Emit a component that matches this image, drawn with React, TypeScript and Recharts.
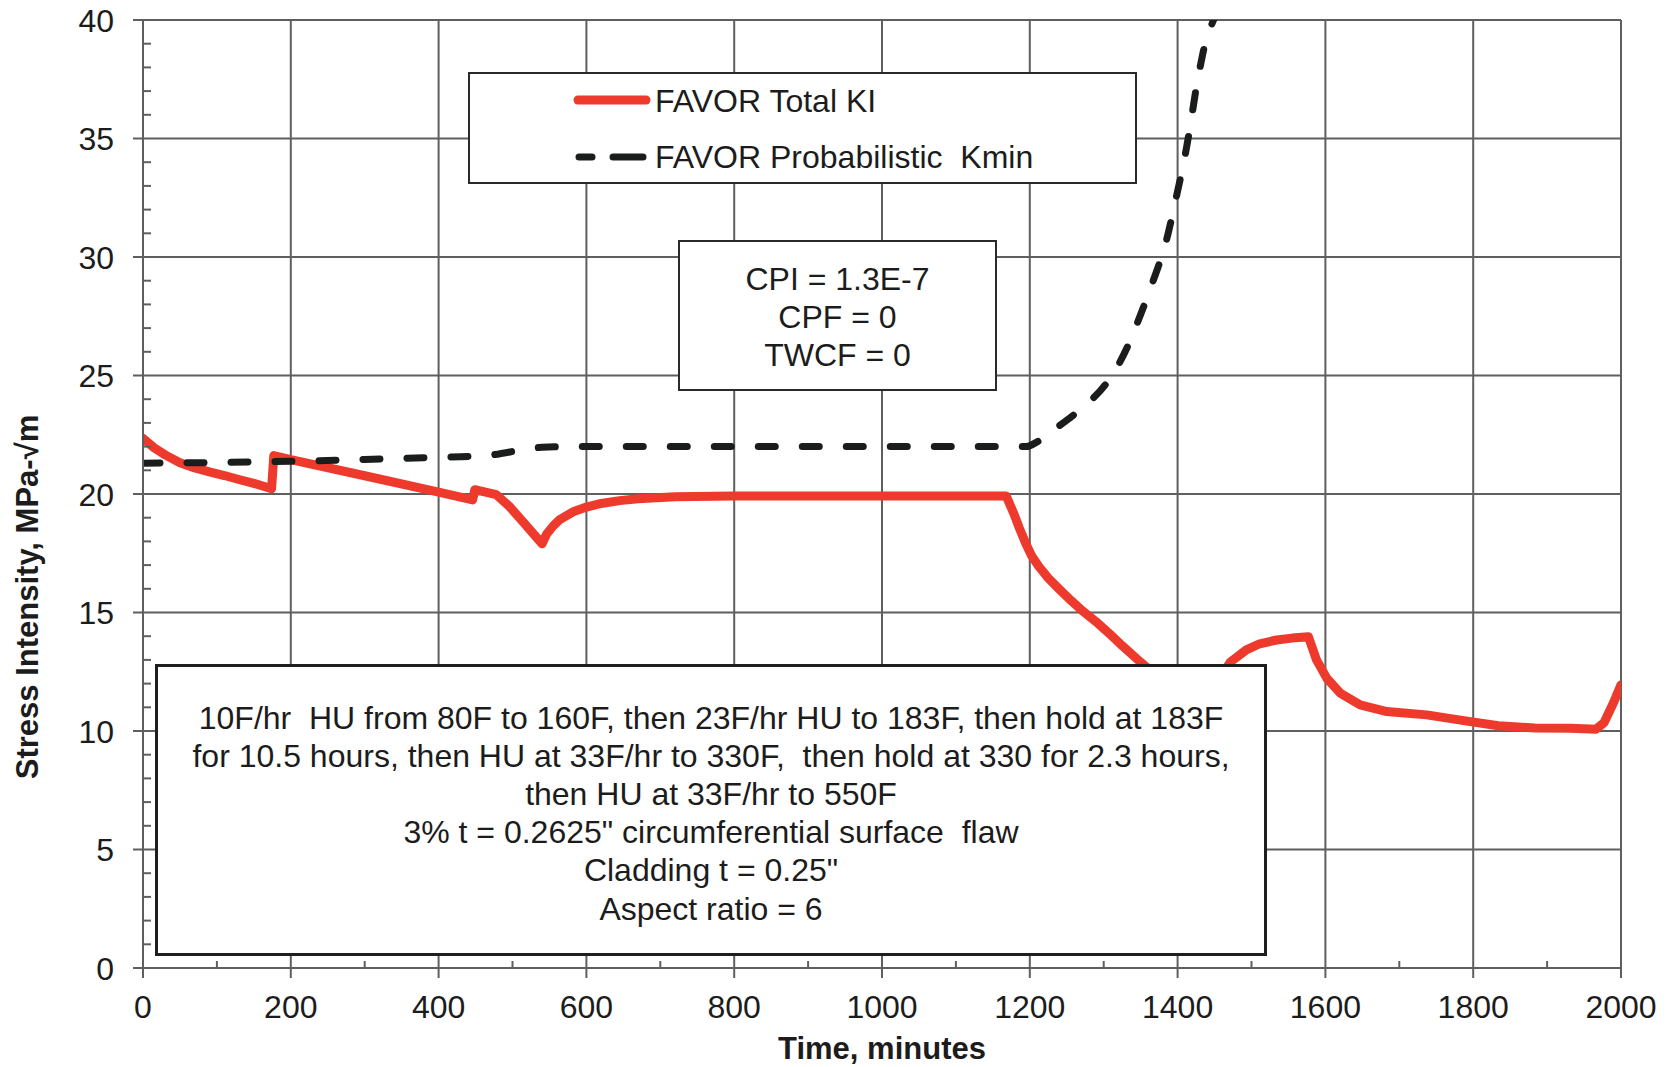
import React from 'react';
import { LineChart, Line, XAxis, YAxis, CartesianGrid, Legend, Label } from 'recharts';

// ---------- data ----------
const KI_TIME = [0, 15, 30, 50, 70, 90, 110, 131, 150, 174, 177, 200, 300, 400, 446, 449, 478, 495, 515, 540, 546, 555, 564, 582, 600, 620, 645, 670, 720, 800, 1168, 1178, 1186, 1194, 1202, 1212, 1225, 1240, 1256, 1272, 1290, 1308, 1325, 1350, 1380, 1410, 1440, 1455, 1471, 1493, 1511, 1534, 1555, 1577, 1588, 1602, 1620, 1647, 1683, 1737, 1785, 1834, 1883, 1932, 1966, 1977, 1990, 2000];
const KI_VALUE = [22.35, 21.95, 21.65, 21.32, 21.1, 20.93, 20.78, 20.6, 20.45, 20.22, 21.62, 21.45, 20.77, 20.08, 19.75, 20.18, 19.97, 19.5, 18.8, 17.9, 18.3, 18.65, 18.92, 19.25, 19.45, 19.6, 19.72, 19.8, 19.88, 19.92, 19.92, 19.2, 18.55, 17.95, 17.42, 16.95, 16.45, 15.98, 15.5, 15.05, 14.6, 14.1, 13.6, 12.9, 12.1, 11.5, 11.4, 12.1, 12.9, 13.42, 13.68, 13.84, 13.92, 13.98, 13.0, 12.22, 11.6, 11.1, 10.82, 10.68, 10.45, 10.22, 10.13, 10.12, 10.07, 10.35, 11.2, 11.95];

const KMIN_TIME = [0, 100, 200, 300, 400, 450, 480, 510, 540, 580, 1195, 1210, 1232, 1258, 1281, 1302, 1318, 1332, 1342, 1354, 1364, 1375, 1384, 1391, 1398, 1405, 1412, 1419, 1425, 1431, 1438, 1446, 1456];
const KMIN_VALUE = [21.3, 21.33, 21.38, 21.46, 21.55, 21.6, 21.68, 21.85, 21.97, 22.0, 22.0, 22.2, 22.7, 23.3, 23.9, 24.6, 25.35, 26.2, 26.95, 27.9, 28.75, 29.7, 30.6, 31.5, 32.5, 33.5, 34.6, 35.9, 37.1, 38.1, 39.1, 39.8, 40.5];

const X_TICKS = [0, 100, 200, 300, 400, 500, 600, 700, 800, 900, 1000, 1100, 1200, 1300, 1400, 1500, 1600, 1700, 1800, 1900, 2000];
const X_MAJOR = [0, 200, 400, 600, 800, 1000, 1200, 1400, 1600, 1800, 2000];
const Y_TICKS = Array.from({ length: 41 }, (_, i) => i);
const Y_MAJOR = [0, 5, 10, 15, 20, 25, 30, 35, 40];

const SERIES_NAMES = ['FAVOR Total KI', 'FAVOR Probabilistic  Kmin'];
const X_TITLE = 'Time, minutes';
const Y_TITLE = 'Stress Intensity, MPa-\u221Am';
const STATS_LINES = ['CPI = 1.3E-7', 'CPF = 0', 'TWCF = 0'];
const NOTE_LINES = [
  '10F/hr  HU from 80F to 160F, then 23F/hr HU to 183F, then hold at 183F',
  'for 10.5 hours, then HU at 33F/hr to 330F,  then hold at 330 for 2.3 hours,',
  'then HU at 33F/hr to 550F',
  '3% t = 0.2625" circumferential surface  flaw',
  'Cladding t = 0.25"',
  'Aspect ratio = 6',
];

const kiData = KI_TIME.map((t, i) => ({ t, v: KI_VALUE[i] }));
const kminData = KMIN_TIME.map((t, i) => ({ t, v: KMIN_VALUE[i] }));

// ---------- style ----------
const FONT = '"Liberation Sans", Arial, sans-serif';
const TEXT = '#1c1c1c';
const GRID = '#5e5f60';
const RED = '#EE3A2C';
const BLACK = '#1b1d1d';
const FS = 32;

const XTick = (props: any) => {
  const { x, y, payload } = props;
  const v = payload.value;
  const major = v % 200 === 0;
  return (
    <g>
      {major ? (
        <line x1={x} x2={x} y1={y} y2={y + 10} stroke={GRID} strokeWidth={2} />
      ) : (
        <line x1={x} x2={x} y1={y} y2={y - 7} stroke={GRID} strokeWidth={2} />
      )}
      {major && (
        <text x={x} y={y + 50} textAnchor="middle" fontSize={FS} fontFamily={FONT} fill={TEXT}>
          {v}
        </text>
      )}
    </g>
  );
};

const YTick = (props: any) => {
  const { x, y, payload } = props;
  const v = payload.value;
  const major = v % 5 === 0;
  return (
    <g>
      {major ? (
        <line x1={x - 10} x2={x} y1={y} y2={y} stroke={GRID} strokeWidth={2} />
      ) : (
        <line x1={x} x2={x + 8} y1={y} y2={y} stroke={GRID} strokeWidth={2} />
      )}
      {major && (
        <text x={x - 29} y={y + 11.5} textAnchor="end" fontSize={FS} fontFamily={FONT} fill={TEXT}>
          {v}
        </text>
      )}
    </g>
  );
};

const YTitle = (props: any) => {
  const vb = props.viewBox || { x: 0, y: 20, width: 143, height: 948 };
  const cx = vb.x + 27;
  const cy = vb.y + vb.height / 2 + 103;
  return (
    <text
      x={cx}
      y={cy}
      transform={`rotate(-90, ${cx}, ${cy})`}
      textAnchor="middle"
      dominantBaseline="central"
      fontSize={31}
      fontWeight="bold"
      fontFamily={FONT}
      fill={TEXT}
    >
      {Y_TITLE}
    </text>
  );
};

const XTitle = (props: any) => {
  const vb = props.viewBox || { x: 143, y: 968, width: 1478, height: 99 };
  return (
    <text
      x={vb.x + vb.width / 2}
      y={vb.y + 91}
      textAnchor="middle"
      fontSize={31}
      fontWeight="bold"
      fontFamily={FONT}
      fill={TEXT}
    >
      {X_TITLE}
    </text>
  );
};

const renderLegend = () => (
  <svg width={669} height={112} style={{ display: 'block' }}>
    <rect x={1} y={1} width={667} height={110} fill="#fff" stroke="#2a2a2a" strokeWidth={2} />
    <line x1={110} x2={178} y1={28} y2={28} stroke={RED} strokeWidth={9} strokeLinecap="round" />
    <line x1={111} x2={124} y1={85} y2={85} stroke={BLACK} strokeWidth={7} strokeLinecap="round" />
    <line x1={145} x2={175} y1={85} y2={85} stroke={BLACK} strokeWidth={7} strokeLinecap="round" />
    <text x={187} y={40} fontSize={FS} fontFamily={FONT} fill={TEXT} style={{ whiteSpace: 'pre' }}>
      {SERIES_NAMES[0]}
    </text>
    <text x={187} y={96} fontSize={FS} fontFamily={FONT} fill={TEXT} style={{ whiteSpace: 'pre' }}>
      {SERIES_NAMES[1]}
    </text>
  </svg>
);

export default function App() {
  return (
    <div style={{ position: 'absolute', left: 0, top: 0, width: 1668, height: 1067, background: '#fff' }}>
      <LineChart width={1668} height={1067} margin={{ top: 20, right: 47, left: 0, bottom: 0 }}>
        <CartesianGrid
          stroke={GRID}
          strokeWidth={2}
          verticalValues={X_MAJOR}
          horizontalValues={Y_MAJOR}
          fill="#fff"
        />
        <XAxis
          dataKey="t"
          type="number"
          domain={[0, 2000]}
          ticks={X_TICKS}
          interval={0}
          allowDataOverflow
          height={99}
          tickSize={0}
          tickMargin={0}
          tickLine={false}
          axisLine={{ stroke: GRID, strokeWidth: 2 }}
          tick={<XTick />}
        >
          <Label content={<XTitle />} />
        </XAxis>
        <YAxis
          type="number"
          domain={[0, 40]}
          ticks={Y_TICKS}
          interval={0}
          allowDataOverflow
          width={143}
          tickSize={0}
          tickMargin={0}
          tickLine={false}
          axisLine={{ stroke: GRID, strokeWidth: 2 }}
          tick={<YTick />}
        >
          <Label content={<YTitle />} />
        </YAxis>
        <Legend
          verticalAlign="middle"
          layout="horizontal"
          align="center"
          content={renderLegend}
          wrapperStyle={{ left: 468, top: 72, width: 669, height: 112 }}
        />
        <Line
          data={kiData}
          dataKey="v"
          name={SERIES_NAMES[0]}
          type="linear"
          stroke={RED}
          strokeWidth={9}
          strokeLinejoin="round"
          strokeLinecap="round"
          dot={false}
          activeDot={false}
          isAnimationActive={false}
        />
        <Line
          data={kminData}
          dataKey="v"
          name={SERIES_NAMES[1]}
          type="monotone"
          stroke={BLACK}
          strokeWidth={7}
          strokeDasharray="17 27"
          strokeLinecap="round"
          dot={false}
          activeDot={false}
          isAnimationActive={false}
        />
      </LineChart>

      <svg width={319} height={151} style={{ position: 'absolute', left: 678, top: 240 }}>
        <rect x={1} y={1} width={317} height={149} fill="#fff" stroke="#2a2a2a" strokeWidth={2} />
        {STATS_LINES.map((s, i) => (
          <text key={i} x={159.5} y={49.5 + i * 38} textAnchor="middle" fontSize={FS} fontFamily={FONT} fill={TEXT}>
            {s}
          </text>
        ))}
      </svg>

      <svg width={1112} height={292} style={{ position: 'absolute', left: 155, top: 664 }}>
        <rect x={1.5} y={1.5} width={1109} height={289} fill="#fff" stroke="#1e1e1e" strokeWidth={3} />
        {NOTE_LINES.map((s, i) => (
          <text
            key={i}
            x={556}
            y={64.5 + i * 38.2}
            textAnchor="middle"
            fontSize={FS}
            fontFamily={FONT}
            fill={TEXT}
            style={{ whiteSpace: 'pre' }}
          >
            {s}
          </text>
        ))}
      </svg>
    </div>
  );
}
